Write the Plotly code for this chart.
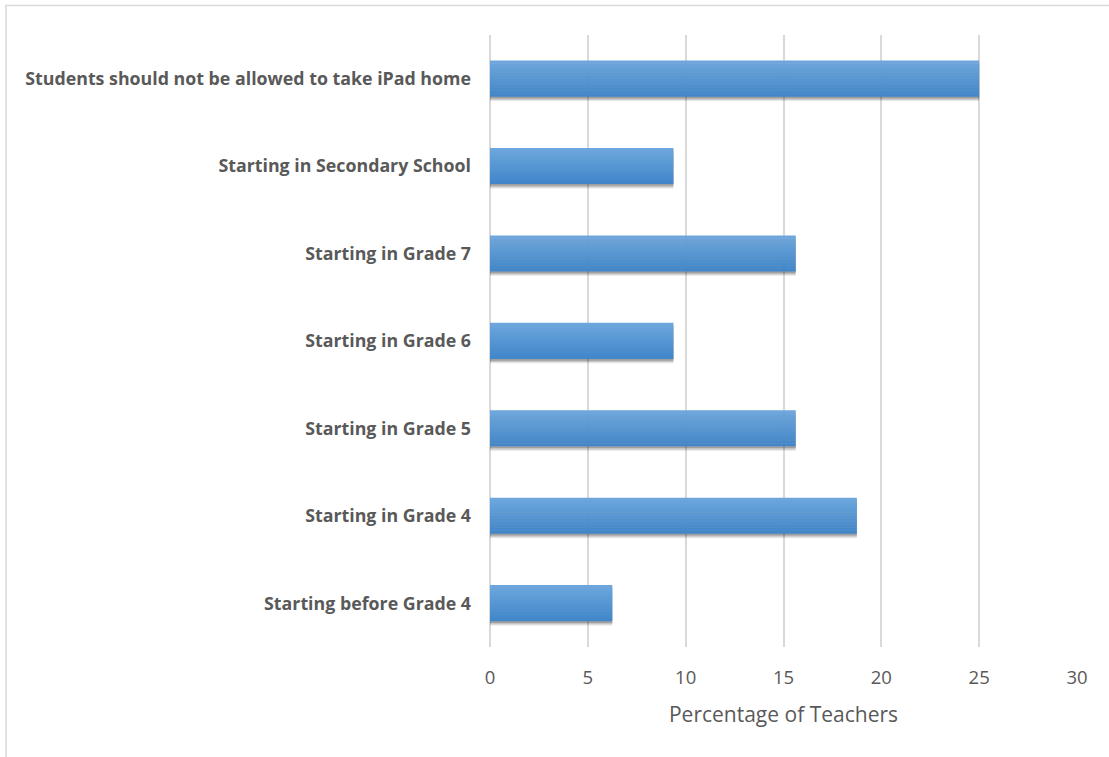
import plotly.graph_objects as go

# Data (bottom-to-top display order)
categories = [
    "Starting before Grade 4",
    "Starting in Grade 4",
    "Starting in Grade 5",
    "Starting in Grade 6",
    "Starting in Grade 7",
    "Starting in Secondary School",
    "Students should not be allowed to take iPad home",
]
percentages = [6.25, 18.75, 15.625, 9.375, 15.625, 9.375, 25.0]
x_ticks = [0, 5, 10, 15, 20, 25, 30]

BAR_W = 0.41
N_SLICES = 12
top_rgb = (108, 166, 221)
bot_rgb = (65, 135, 202)

fig = go.Figure()

# soft shadow beneath bars
for k, (alpha, dy) in enumerate([(0.10, 0.05), (0.14, 0.035), (0.18, 0.02)]):
    fig.add_trace(go.Bar(
        y=categories, x=percentages, orientation="h",
        width=BAR_W, offset=-BAR_W / 2 - dy,
        marker=dict(color=f"rgba(0,0,0,{alpha})", line=dict(width=0)),
        hoverinfo="skip", showlegend=False,
    ))

# gradient bars built from thin slices
h = BAR_W / N_SLICES
for i in range(N_SLICES):
    t = i / (N_SLICES - 1)
    r = round(top_rgb[0] + (bot_rgb[0] - top_rgb[0]) * t)
    g = round(top_rgb[1] + (bot_rgb[1] - top_rgb[1]) * t)
    b = round(top_rgb[2] + (bot_rgb[2] - top_rgb[2]) * t)
    fig.add_trace(go.Bar(
        y=categories, x=percentages, orientation="h",
        width=h * 1.08, offset=BAR_W / 2 - (i + 1) * h,
        marker=dict(color=f"rgb({r},{g},{b})", line=dict(width=0)),
        hoverinfo="skip" if i else None, showlegend=False,
    ))

W, H = 1109, 757
L, R, T, B = 490, 32, 35, 110
pw, ph = W - L - R, H - T - B

def px2paper_x(px):
    return (px - L) / pw

def px2paper_y(py):
    return (H - B - py) / ph

fig.update_layout(
    width=W, height=H,
    margin=dict(l=L, r=R, t=T, b=B),
    paper_bgcolor="white", plot_bgcolor="white",
    barmode="overlay",
    font=dict(family="'Open Sans', Lato, sans-serif", color="#595959"),
    xaxis=dict(
        range=[0, 30], tickvals=x_ticks, ticktext=[str(v) for v in x_ticks],
        showgrid=True, gridcolor="#D9D9D9", gridwidth=1.5,
        zeroline=True, zerolinecolor="#D9D9D9", zerolinewidth=1.5,
        showline=False, ticks="",
        tickfont=dict(size=18.5, color="#595959"),
        ticklabelstandoff=17,
        title=dict(text="Percentage of Teachers", font=dict(size=21, color="#595959"), standoff=19),
        fixedrange=True,
    ),
    yaxis=dict(
        type="category", categoryorder="array", categoryarray=categories,
        range=[-0.5, 6.5],
        showgrid=False, zeroline=False, showline=False, ticks="",
        tickfont=dict(size=17.8, color="#595959", weight="bold"),
        ticklabelstandoff=18,
        fixedrange=True,
    ),
    shapes=[
        dict(type="line", xref="paper", yref="paper",
             x0=px2paper_x(5), x1=px2paper_x(1112), y0=px2paper_y(5.5), y1=px2paper_y(5.5),
             line=dict(color="#D9D9D9", width=1.5)),
        dict(type="line", xref="paper", yref="paper",
             x0=px2paper_x(6), x1=px2paper_x(6), y0=px2paper_y(5), y1=px2paper_y(760),
             line=dict(color="#D9D9D9", width=1.5)),
    ],
)

fig.write_html("out.html")
